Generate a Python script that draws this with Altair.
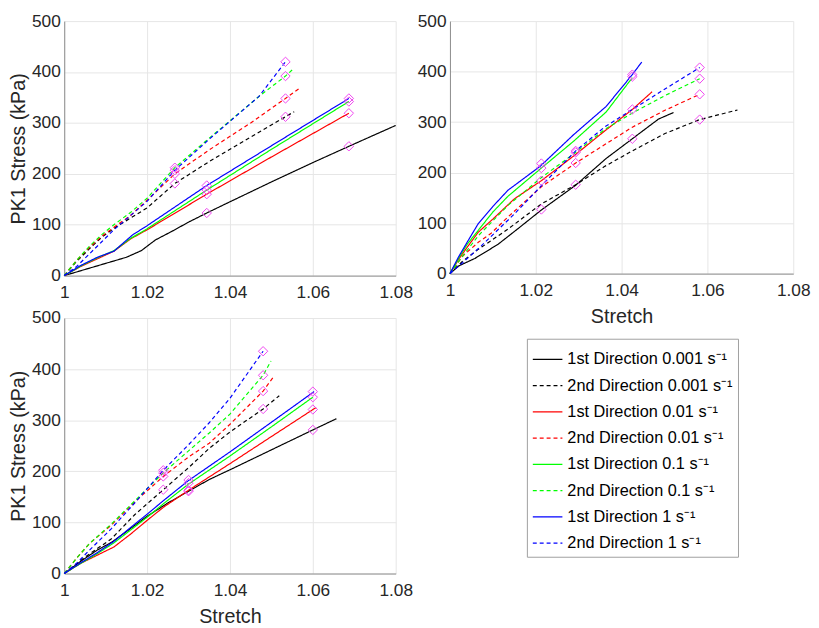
import altair as alt
import pandas as pd

STRETCH_TICKS = [1, 1.02, 1.04, 1.06, 1.08]
STRESS_TICKS = [0, 100, 200, 300, 400, 500]

SERIES = [
    "1st Direction 0.001 s⁻¹",
    "2nd Direction 0.001 s⁻¹",
    "1st Direction 0.01 s⁻¹",
    "2nd Direction 0.01 s⁻¹",
    "1st Direction 0.1 s⁻¹",
    "2nd Direction 0.1 s⁻¹",
    "1st Direction 1 s⁻¹",
    "2nd Direction 1 s⁻¹",
]
COLORS = ["#000000", "#000000", "#ff0000", "#ff0000",
          "#00ff00", "#00ff00", "#0000ff", "#0000ff"]
DASHES = [[1, 0], [4, 3]] * 4

# panel A (top left): stretch, stress (kPa)
PANEL_A = {
    SERIES[0]: ([1, 1.005, 1.010, 1.015, 1.0186, 1.022, 1.026, 1.030, 1.0344, 1.04, 1.05, 1.06, 1.0687, 1.08],
                [0, 12, 24, 36, 49, 70, 87, 105, 123, 145, 184, 222, 254, 295]),
    SERIES[1]: ([1, 1.003, 1.006, 1.009, 1.012, 1.015, 1.020, 1.0267, 1.035, 1.045, 1.0534, 1.0555],
                [0, 28, 52, 75, 93, 108, 133, 181, 224, 272, 312, 322]),
    SERIES[2]: ([1, 1.004, 1.008, 1.012, 1.016, 1.020, 1.0344, 1.05, 1.0687],
                [0, 18, 33, 48, 72, 90, 160, 233, 319]),
    SERIES[3]: ([1, 1.003, 1.006, 1.009, 1.012, 1.016, 1.020, 1.0267, 1.035, 1.045, 1.0534, 1.0566],
                [0, 30, 55, 77, 95, 118, 148, 200, 247, 300, 348, 367]),
    SERIES[4]: ([1, 1.004, 1.008, 1.012, 1.016, 1.020, 1.0344, 1.05, 1.0687],
                [0, 19, 35, 49, 73, 92, 168, 248, 342]),
    SERIES[5]: ([1, 1.003, 1.006, 1.009, 1.012, 1.016, 1.020, 1.0267, 1.035, 1.047, 1.0534, 1.055],
                [0, 30, 57, 80, 100, 124, 152, 212, 270, 352, 392, 404]),
    SERIES[6]: ([1, 1.004, 1.008, 1.012, 1.0165, 1.020, 1.0344, 1.05, 1.0687],
                [0, 20, 36, 48, 80, 98, 177, 255, 348]),
    SERIES[7]: ([1, 1.003, 1.006, 1.009, 1.012, 1.016, 1.020, 1.0267, 1.035, 1.047, 1.0534],
                [0, 18, 42, 66, 90, 118, 146, 207, 268, 352, 420]),
}
A_MARK_X = [1.0267] * 4 + [1.0344] * 4 + [1.0534] * 4 + [1.0687] * 4
A_MARK_Y = [181, 200, 207, 212, 123, 160, 168, 177, 312, 348, 392, 420, 254, 319, 342, 348]

# panel B (top right)
PANEL_B = {
    SERIES[0]: ([1, 1.002, 1.0058, 1.0112, 1.016, 1.0213, 1.0293, 1.0364, 1.0425, 1.0486, 1.0521],
                [0, 15, 30, 58, 90, 126, 175, 228, 267, 306, 319]),
    SERIES[1]: ([1, 1.003, 1.0066, 1.0135, 1.0213, 1.0293, 1.036, 1.0425, 1.05, 1.0582, 1.067],
                [0, 25, 48, 88, 138, 176, 212, 243, 277, 305, 324]),
    SERIES[2]: ([1, 1.002, 1.004, 1.0066, 1.010, 1.015, 1.0213, 1.0293, 1.036, 1.0425, 1.0471],
                [0, 28, 52, 82, 108, 148, 184, 236, 282, 325, 360]),
    SERIES[3]: ([1, 1.003, 1.0066, 1.0096, 1.0135, 1.0213, 1.0293, 1.036, 1.0425, 1.05, 1.0582],
                [0, 35, 62, 80, 112, 172, 219, 255, 290, 323, 355]),
    SERIES[4]: ([1, 1.002, 1.004, 1.007, 1.010, 1.0135, 1.0213, 1.0288, 1.0364, 1.0425],
                [0, 30, 58, 90, 122, 153, 209, 262, 320, 388]),
    SERIES[5]: ([1, 1.003, 1.0066, 1.0135, 1.0213, 1.0293, 1.036, 1.0425, 1.05, 1.0582],
                [0, 35, 75, 135, 190, 240, 285, 318, 352, 386]),
    SERIES[6]: ([1, 1.002, 1.004, 1.0066, 1.010, 1.0135, 1.0211, 1.0288, 1.0364, 1.0425, 1.0447],
                [0, 33, 62, 99, 133, 165, 213, 275, 331, 394, 419]),
    SERIES[7]: ([1, 1.003, 1.0073, 1.015, 1.0213, 1.0293, 1.036, 1.0425, 1.05, 1.0582],
                [0, 22, 55, 118, 174, 243, 290, 325, 365, 408]),
}
B_MARK_X = [1.0213] * 4 + [1.0293] * 4 + [1.0425] * 4 + [1.0582] * 4
B_MARK_Y = [127, 184, 209, 218, 176, 219, 240, 243, 267, 325, 390, 394, 305, 355, 386, 408]

# panel C (bottom left)
PANEL_C = {
    SERIES[0]: ([1, 1.004, 1.008, 1.0114, 1.015, 1.02, 1.025, 1.03, 1.035, 1.04, 1.05, 1.06, 1.0657],
                [0, 24, 46, 61, 82, 112, 138, 161, 184, 203, 242, 281, 303]),
    SERIES[1]: ([1, 1.005, 1.0114, 1.017, 1.0239, 1.03, 1.035, 1.04, 1.048, 1.0519],
                [0, 32, 68, 115, 164, 207, 245, 277, 322, 348]),
    SERIES[2]: ([1, 1.004, 1.008, 1.012, 1.016, 1.02, 1.024, 1.03, 1.04, 1.05, 1.0608],
                [0, 20, 36, 52, 77, 104, 130, 163, 215, 268, 325]),
    SERIES[3]: ([1, 1.003, 1.006, 1.0114, 1.017, 1.0239, 1.03, 1.035, 1.04, 1.048, 1.0507],
                [0, 30, 58, 95, 140, 190, 228, 255, 292, 357, 387]),
    SERIES[4]: ([1, 1.004, 1.008, 1.012, 1.016, 1.02, 1.024, 1.03, 1.04, 1.05, 1.06],
                [0, 20, 39, 60, 85, 110, 137, 175, 230, 287, 345]),
    SERIES[5]: ([1, 1.003, 1.006, 1.0114, 1.017, 1.0239, 1.03, 1.035, 1.04, 1.048, 1.0499],
                [0, 30, 58, 97, 142, 197, 240, 275, 312, 388, 416]),
    SERIES[6]: ([1, 1.004, 1.008, 1.012, 1.016, 1.02, 1.024, 1.03, 1.04, 1.05, 1.0603],
                [0, 21, 41, 63, 90, 116, 143, 182, 238, 296, 356]),
    SERIES[7]: ([1, 1.003, 1.006, 1.0114, 1.017, 1.0239, 1.03, 1.035, 1.04, 1.048],
                [0, 20, 45, 88, 138, 202, 252, 295, 343, 435]),
}
C_MARK_X = [1.0239] * 4 + [1.03] * 4 + [1.048] * 4 + [1.06] * 4
C_MARK_Y = [164, 190, 197, 202, 161, 163, 177, 183, 322, 357, 388, 435, 281, 321, 345, 356]

FONT = "Liberation Sans"
INK = "#262626"


def to_frame(curves):
    rows = []
    for name, (xs, ys) in curves.items():
        for x, y in zip(xs, ys):
            rows.append({"series": name, "stretch": x, "stress": y})
    return pd.DataFrame(rows)


legend = alt.Legend(
    title=None, orient="none", legendX=469, legendY=322,
    symbolType="stroke", symbolSize=900, symbolStrokeWidth=1.2,
    labelFont=FONT, labelFontSize=16.5, labelColor="black", labelLimit=400,
    labelOffset=4, strokeColor="#a0a0a0", fillColor="white",
    padding=5, rowPadding=1.6,
)


def panel(curves, mark_x, mark_y, w, h, xtitle, ytitle):
    x = alt.X("stretch:Q", scale=alt.Scale(domain=[1, 1.08], nice=False),
              axis=alt.Axis(values=STRETCH_TICKS, format="~g", title=xtitle,
                            labelFlush=False))
    y = alt.Y("stress:Q", scale=alt.Scale(domain=[0, 500], nice=False),
              axis=alt.Axis(values=STRESS_TICKS, title=ytitle))
    lines = alt.Chart(to_frame(curves)).mark_line(strokeWidth=1.2).encode(
        x=x, y=y,
        color=alt.Color("series:N", scale=alt.Scale(domain=SERIES, range=COLORS),
                        sort=SERIES, legend=legend),
        strokeDash=alt.StrokeDash("series:N", scale=alt.Scale(domain=SERIES, range=DASHES),
                                  sort=SERIES, legend=legend),
    )
    marks = alt.Chart(pd.DataFrame({"stretch": mark_x, "stress": mark_y})).mark_point(
        shape="diamond", filled=False, size=90, color="#f044f0", strokeWidth=1, opacity=1
    ).encode(x=x, y=y)
    return alt.layer(lines, marks).properties(width=w, height=h)


top_left = panel(PANEL_A, A_MARK_X, A_MARK_Y, 336, 258, None, "PK1 Stress (kPa)")
top_right = panel(PANEL_B, B_MARK_X, B_MARK_Y, 348, 256, "Stretch", None)
bottom_left = panel(PANEL_C, C_MARK_X, C_MARK_Y, 336, 259, "Stretch", "PK1 Stress (kPa)")

chart = alt.hconcat(
    alt.vconcat(top_left, bottom_left, spacing=8),
    top_right,
    spacing=3,
).properties(
    padding={"left": 0, "top": 0, "right": 0, "bottom": 0}
).configure_axis(
    labelFont=FONT, labelFontSize=17.5, labelColor=INK, labelPadding=4,
    titleFont=FONT, titleFontSize=20, titleColor=INK, titleFontWeight="normal",
    titlePadding=3, grid=True, gridColor="#e6e6e6", domainColor="#8c8c8c",
    ticks=False,
).configure_axisX(
    labelPadding=8, titlePadding=8,
).configure_view(
    strokeWidth=0
)

chart.save("out.html", embed_options={"renderer": "svg", "actions": False})
